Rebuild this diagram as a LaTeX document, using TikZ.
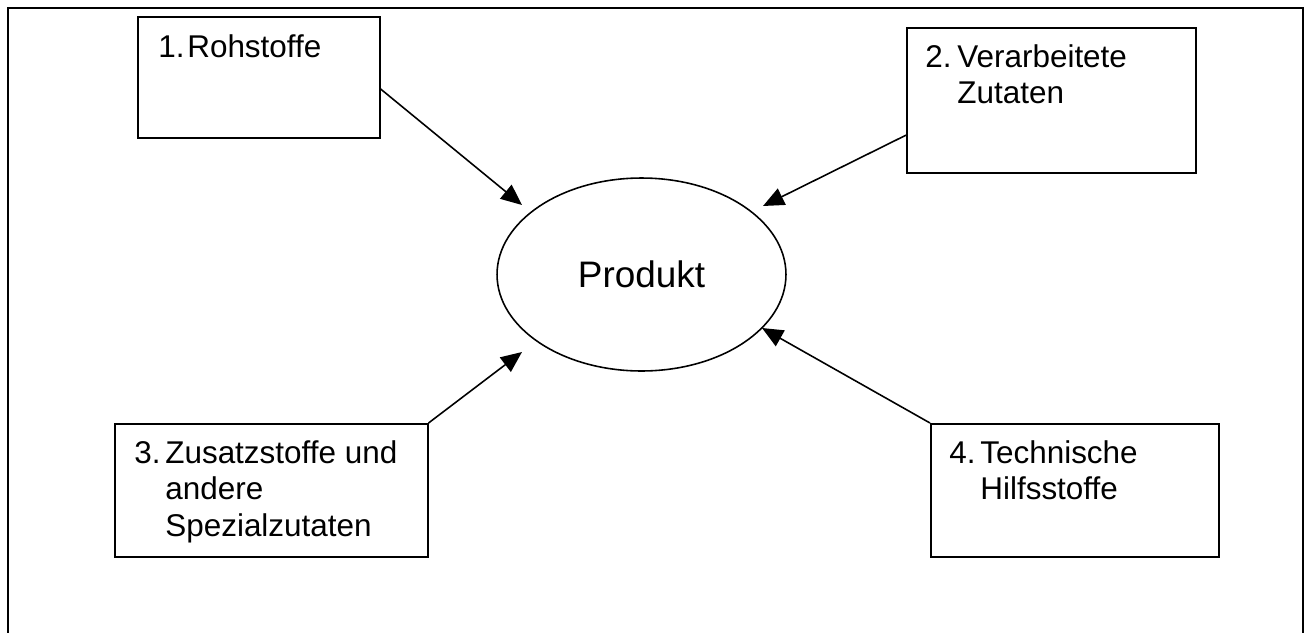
\documentclass[tikz,border=0pt]{standalone}
\usepackage{fontspec}
\setmainfont{Liberation Sans}
\usetikzlibrary{calc}
\usetikzlibrary{arrows.meta,shapes.geometric}
\tikzset{%
    kasten/.style={draw,line width=0.9pt,inner sep=0pt,anchor=north west},
    eintrag/.style={inner sep=0pt,anchor=base west,font=\fontsize{17.9}{21}\selectfont},
    pfeil/.style={-{Triangle[length=0.42cm,width=0.36cm]},line width=0.9pt}
}
% nummerierte Zeilen mit haengendem Einzug
\newcommand{\liste}[3]{\begin{tabular}[t]{@{}p{#1}@{}l@{}}#2 & #3\end{tabular}}

\begin{document}
\begin{tikzpicture}[x=0.02cm,y=-0.02cm]
    \useasboundingbox (0,0) rectangle (1310,632);
    % Rahmen, unten offen
    \draw[line width=1.3pt] (8,640) -- (8,8) -- (1303,8) -- (1303,640);
    %
    \node[draw,ellipse,line width=0.9pt,inner sep=0pt,minimum width=5.78cm,minimum height=3.86cm,
      font=\fontsize{21}{24}\selectfont] (prod) at (641.5,274.5) {Produkt};
    %
    \node[kasten,minimum width=4.84cm,minimum height=2.42cm] (r1) at (137,16) {};
    \node[kasten,minimum width=5.78cm,minimum height=2.90cm] (r2) at (906,27) {};
    \node[kasten,minimum width=6.26cm,minimum height=2.66cm] (r3) at (114,423) {};
    \node[kasten,minimum width=5.76cm,minimum height=2.66cm] (r4) at (930,423) {};
    %
    \node[eintrag] (l1) at (158,57) {\liste{0.58cm}{1.}{Rohstoffe}};
    \node[eintrag] (l2) at (925,67) {\liste{0.64cm}{2.}{Verarbeitete\\ & Zutaten}};
    \node[eintrag] (l3) at (134,463) {\liste{0.62cm}{3.}{Zusatzstoffe und\\ & andere\\ & Spezialzutaten}};
    \node[eintrag] (l4) at (949,463) {\liste{0.62cm}{4.}{Technische\\ & Hilfsstoffe}};
    %
    \coordinate (s1) at ($(r1.north east)!0.595!(r1.south east)$);
    \coordinate (s2) at ($(r2.north west)!0.738!(r2.south west)$);
    \coordinate (t1) at (522,205);
    \coordinate (t2) at (763,206);
    \coordinate (t3) at (522,352);
    \coordinate (t4) at (762,328);
    \draw[pfeil] (s1) -- (t1);
    \draw[pfeil] (s2) -- (t2);
    \draw[pfeil] (r3.north east) -- (t3);
    \draw[pfeil] (r4.north west) -- (t4);
\end{tikzpicture}
\end{document}
